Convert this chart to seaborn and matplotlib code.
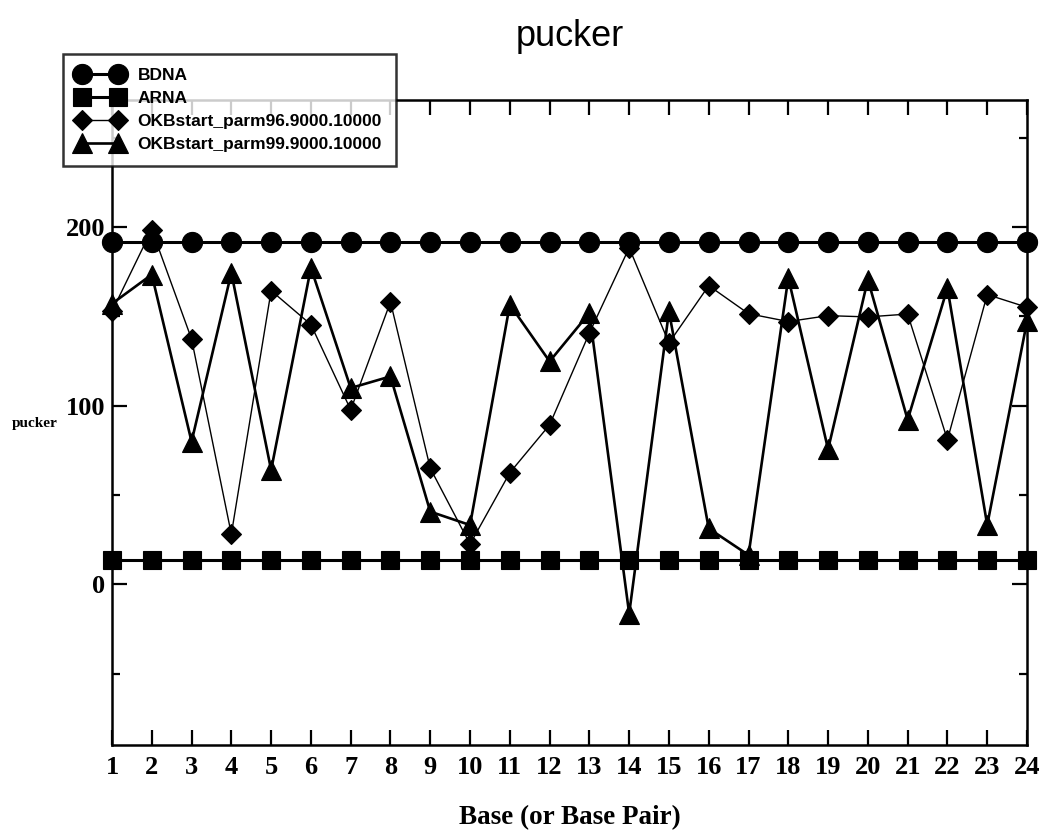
import matplotlib
matplotlib.use("Agg")
import matplotlib.pyplot as plt
import seaborn as sns
import pandas as pd
from matplotlib.ticker import MultipleLocator, FixedLocator

# ---- data ----
bases = [1, 2, 3, 4, 5, 6, 7, 8, 9, 10, 11, 12, 13, 14, 15, 16, 17, 18, 19, 20, 21, 22, 23, 24]
bdna = [191.8, 191.8, 191.8, 191.8, 191.8, 191.8, 191.8, 191.8, 191.8, 191.8, 191.8, 191.8,
        191.8, 191.8, 191.8, 191.8, 191.8, 191.8, 191.8, 191.8, 191.8, 191.8, 191.8, 191.8]
arna = [13.5, 13.5, 13.5, 13.5, 13.5, 13.5, 13.5, 13.5, 13.5, 13.5, 13.5, 13.5,
        13.5, 13.5, 13.5, 13.5, 13.5, 13.5, 13.5, 13.5, 13.5, 13.5, 13.5, 13.5]
okb96 = [152.7, 198.5, 137.2, 28.0, 164.3, 145.3, 97.6, 158.0, 64.9, 22.4, 62.4, 89.2,
         140.6, 188.3, 135.0, 167.1, 151.4, 147.0, 150.3, 149.6, 151.2, 80.8, 162.1, 155.0]
okb99 = [157.0, 173.3, 79.8, 174.3, 63.9, 177.1, 109.8, 116.3, 40.6, 33.1, 156.5, 124.7,
         151.8, -16.5, 152.7, 31.2, 16.3, 171.5, 75.5, 170.5, 92.0, 165.8, 33.1, 147.1]
series_names = ["BDNA", "ARNA", "OKBstart_parm96.9000.10000", "OKBstart_parm99.9000.10000"]
x_ticks = [1, 2, 3, 4, 5, 6, 7, 8, 9, 10, 11, 12, 13, 14, 15, 16, 17, 18, 19, 20, 21, 22, 23, 24]
y_ticks = [0, 100, 200]

frames = []
for name, vals in zip(series_names, [bdna, arna, okb96, okb99]):
    frames.append(pd.DataFrame({"Base": bases, "pucker": vals, "series": name}))
df = pd.concat(frames, ignore_index=True)

styles = {
    "BDNA": dict(marker="o", markersize=14.5, linewidth=2.2),
    "ARNA": dict(marker="s", markersize=13, linewidth=2.2),
    "OKBstart_parm96.9000.10000": dict(marker="D", markersize=10, linewidth=1.0),
    "OKBstart_parm99.9000.10000": dict(marker="^", markersize=14, linewidth=1.9),
}

sns.set_style("white")
plt.rcParams["font.family"] = ["Liberation Serif", "DejaVu Serif"]
plt.rcParams["text.color"] = "black"
plt.rcParams["xtick.color"] = "black"
plt.rcParams["ytick.color"] = "black"
plt.rcParams["axes.labelcolor"] = "black"

fig = plt.figure(figsize=(10.47, 8.32), dpi=100)
ax = fig.add_axes([112 / 1047, 1 - 745 / 832, (1027 - 112) / 1047, (745 - 100) / 832])

for name in series_names:
    st = styles[name]
    sns.lineplot(data=df[df["series"] == name], x="Base", y="pucker", ax=ax,
                 color="black", label=name, errorbar=None, sort=False,
                 marker=st["marker"], markersize=st["markersize"],
                 linewidth=st["linewidth"], markeredgecolor="black",
                 markerfacecolor="black", markeredgewidth=0.8, clip_on=False)

ax.set_xlim(1, 24)
ax.set_ylim(-90, 271)
ax.xaxis.set_major_locator(FixedLocator(x_ticks))
ax.yaxis.set_major_locator(FixedLocator(y_ticks))
ax.yaxis.set_minor_locator(MultipleLocator(50))

for sp in ax.spines.values():
    sp.set_visible(True)
    sp.set_color("black")
    sp.set_linewidth(1.8)

ax.tick_params(axis="both", which="major", direction="in", length=11, width=1.6,
               top=True, right=True, bottom=True, left=True, color="black",
               labelcolor="black", pad=8)
ax.tick_params(axis="y", which="minor", direction="in", length=6, width=1.6,
               left=True, right=True)
ax.tick_params(axis="y", which="major", pad=5)
for lab in ax.get_xticklabels() + ax.get_yticklabels():
    lab.set_fontsize(19)
    lab.set_fontweight("bold")
    lab.set_family(["Liberation Serif", "DejaVu Serif"])

ax.set_xlabel("")
ax.set_ylabel("")
fig.text(570 / 1047, 1 - 818 / 832, "Base (or Base Pair)", ha="center", va="center",
         fontsize=19.5, fontweight="bold", color="black",
         family=["Liberation Serif", "DejaVu Serif"])
fig.text(12 / 1047, 1 - 423 / 832, "pucker", ha="left", va="center",
         fontsize=11, fontweight="bold", color="black",
         family=["Liberation Serif", "DejaVu Serif"])
fig.text(570 / 1047, 1 - 36 / 832, "pucker", ha="center", va="center",
         fontsize=26, color="black", family=["Liberation Sans", "DejaVu Sans"])

handles, labels = ax.get_legend_handles_labels()
ax.get_legend().remove()
leg = fig.legend(handles, labels, loc="upper left", bbox_to_anchor=(63 / 1047, 1 - 54 / 832),
                 borderaxespad=0, numpoints=2, handlelength=2.67, handletextpad=0.83,
                 labelspacing=0.45, borderpad=0.8, fancybox=False, frameon=True,
                 prop={"family": ["Liberation Sans", "DejaVu Sans"], "weight": "bold", "size": 12.5})
leg.get_frame().set_edgecolor("black")
leg.get_frame().set_linewidth(1.8)
for t in leg.get_texts():
    t.set_color("black")

fig.savefig("out.png", dpi=100)
